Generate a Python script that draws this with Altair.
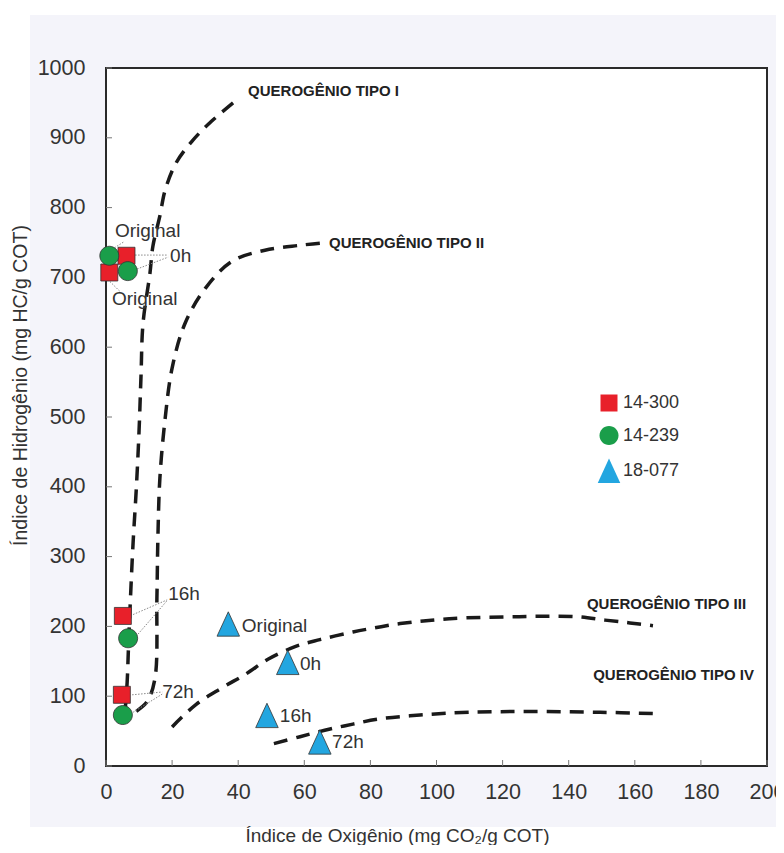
import altair as alt
import pandas as pd

FONT = "Liberation Sans"
W, H = 661, 698

# ---------------- data ----------------
samples = ["14-300", "14-239", "18-077"]
sample_colors = ["#e8202a", "#1a9e4a", "#23a6e0"]
stages = ["Original", "0h", "16h", "72h"]

oi_14300 = [1.0, 6.2, 5.1, 4.8]
hi_14300 = [707, 731, 215, 102]
oi_14239 = [1.0, 6.6, 6.7, 5.1]
hi_14239 = [731, 709, 183, 73]
oi_18077 = [37.0, 55.0, 48.7, 64.7]
hi_18077 = [203, 148, 72, 34]

curve_names = ["QUEROGÊNIO TIPO I", "QUEROGÊNIO TIPO II",
               "QUEROGÊNIO TIPO III", "QUEROGÊNIO TIPO IV"]
tipo1_oi = [5.8, 6.4, 6.8, 7.4, 8.2, 9.2, 10.0, 10.6, 11.2, 13.3, 14.2, 16.3, 17.9, 21.2, 26.0, 32.0, 40.5]
tipo1_hi = [80, 120, 170, 240, 320, 400, 480, 560, 634, 706, 745, 788, 825, 864, 895, 924, 958]
tipo2_oi = [64.7, 58.7, 48.1, 38.1, 30.0, 23.9, 20.0, 17.9, 16.3, 15.7, 15.4, 14.8, 12.4, 8.8, 5.0]
tipo2_hi = [749, 746, 739, 723, 684, 634, 570, 498, 412, 326, 240, 125, 92, 77, 65]
tipo3_oi = [20.0, 27.2, 35.1, 42.4, 49.0, 57.2, 64.7, 74.7, 81.4, 89.0, 104.0, 125.0, 142.0, 151.0, 158.5, 165.5]
tipo3_hi = [56, 88, 112, 132, 153, 171, 181, 192, 198, 204, 211, 214, 214, 209, 205, 201]
tipo4_oi = [50.8, 58.7, 67.8, 74.7, 82.0, 95.0, 110.0, 128.0, 149.5, 166.0]
tipo4_hi = [32, 42, 53, 60, 67, 73, 77, 78, 77, 75]

curve_label_oi = [43.0, 67.5, 145.5, 147.4]
curve_label_hi = [967, 749, 232, 131]

point_label_text = ["Original", "0h", "Original", "16h", "72h", "Original", "0h", "16h", "72h"]
point_label_oi = [2.7, 19.4, 1.8, 18.8, 17.0, 41.1, 58.7, 52.6, 68.4]
point_label_hi = [766, 730, 669, 247, 106, 201, 146, 72, 34]

leader_oi1 = [1.8, 8.8, 9.4, 1.2, 8.2, 9.7, 7.9, 8.2]
leader_hi1 = [740, 732, 712, 694, 217, 189, 102, 77]
leader_oi2 = [5.4, 18.8, 18.8, 4.2, 18.5, 18.5, 17.0, 17.0]
leader_hi2 = [751, 732, 729, 680, 238, 237, 106, 103]

x_ticks = list(range(0, 201, 20))
y_ticks = list(range(0, 1001, 100))

# ---------------- tables ----------------
pts = pd.DataFrame({
    "sample": [samples[0]] * 4 + [samples[1]] * 4 + [samples[2]] * 4,
    "stage": stages * 3,
    "oi": oi_14300 + oi_14239 + oi_18077,
    "hi": hi_14300 + hi_14239 + hi_18077,
})

curve_rows = []
for name, xs_, ys_ in zip(curve_names,
                          [tipo1_oi, tipo2_oi, tipo3_oi, tipo4_oi],
                          [tipo1_hi, tipo2_hi, tipo3_hi, tipo4_hi]):
    for i, (a, b) in enumerate(zip(xs_, ys_)):
        curve_rows.append({"curve": name, "ord": i, "oi": a, "hi": b})
curves_df = pd.DataFrame(curve_rows)

curve_labels_df = pd.DataFrame({"label": curve_names, "oi": curve_label_oi, "hi": curve_label_hi})
point_labels_df = pd.DataFrame({"label": point_label_text, "oi": point_label_oi, "hi": point_label_hi})
leaders_df = pd.DataFrame({"oi": leader_oi1, "hi": leader_hi1, "oi2": leader_oi2, "hi2": leader_hi2})
xt_df = pd.DataFrame({"oi": x_ticks})
yt_df = pd.DataFrame({"hi": y_ticks})
one = pd.DataFrame({"k": [0]})

# ---------------- scales / axes ----------------
xs = alt.Scale(domain=[0, 200], nice=False, zero=False)
ys = alt.Scale(domain=[0, 1000], nice=False, zero=False)

x_axis = alt.Axis(
    title="Índice de Oxigênio (mg CO₂/g COT)", values=x_ticks, format="d", ticks=False, domain=False,
    grid=False, labelFont=FONT, labelFontSize=21.5, labelColor="#333", labelPadding=15,
    labelFlush=False, labelOverlap=False, zindex=1,
    titleFont=FONT, titleFontSize=19, titleFontWeight="normal", titleColor="#333",
    titleX=291, titleY=75, titleAlign="center", titleBaseline="alphabetic",
)
y_axis = alt.Axis(
    title="Índice de Hidrogênio (mg HC/g COT)", values=y_ticks, format="d", ticks=False, domain=False,
    grid=False, labelFont=FONT, labelFontSize=21.5, labelColor="#333", labelPadding=21,
    labelFlush=False, labelOverlap=False, zindex=1,
    titleFont=FONT, titleFontSize=19.5, titleFontWeight="normal", titleColor="#333",
    titleX=-86, titleY=317, titleAngle=270, titleAlign="center", titleBaseline="middle",
)


def X(f):
    return alt.X(f + ":Q", scale=xs, axis=x_axis)


def Y(f):
    return alt.Y(f + ":Q", scale=ys, axis=y_axis)


# ---------------- layers ----------------
bg = alt.Chart(one).mark_rect(fill="#f4f4fa").encode(
    x=alt.value(-76), x2=alt.value(690), y=alt.value(-53), y2=alt.value(759)
)
frame = alt.Chart(one).mark_rect(fill="white", stroke="#2a2a2a", strokeWidth=2).encode(
    x=alt.value(0), x2=alt.value(W), y=alt.value(0), y2=alt.value(H)
)

curves = alt.Chart(curves_df).mark_line(
    color="#1a1a1a", strokeWidth=3.5, strokeDash=[14, 9], interpolate="catmull-rom"
).encode(x=X("oi"), y=Y("hi"), detail="curve:N", order="ord:Q")

xticks = alt.Chart(xt_df).mark_rule(color="#777", strokeWidth=1).encode(
    x=X("oi"), y=alt.value(H), y2=alt.value(H - 6)
)
yticks = alt.Chart(yt_df).mark_rule(color="#777", strokeWidth=1).encode(
    y=Y("hi"), x=alt.value(0), x2=alt.value(6)
)

leaders = alt.Chart(leaders_df).mark_rule(color="#888", strokeWidth=1, strokeDash=[1.5, 1.5]).encode(
    x=X("oi"), y=Y("hi"), x2="oi2:Q", y2="hi2:Q"
)

shape_paths = [
    "M-0.68,-0.68L0.68,-0.68L0.68,0.68L-0.68,0.68Z",
    "M0.76,0A0.76,0.76,0,1,1,-0.76,0A0.76,0.76,0,1,1,0.76,0Z",
    "M0,-1L0.9,0.95L-0.9,0.95Z",
]
leg = alt.Legend(
    orient="none", legendX=490, legendY=322, title=None, symbolSize=625,
    labelFont=FONT, labelFontSize=18, labelColor="#333", rowPadding=8.5, padding=0,
    labelOffset=1, symbolStrokeColor="#333", symbolStrokeWidth=0.8, symbolOpacity=1,
)
points = alt.Chart(pts).mark_point(
    filled=True, size=625, opacity=1, stroke="#333", strokeWidth=0.8
).encode(
    x=X("oi"), y=Y("hi"),
    color=alt.Color("sample:N", scale=alt.Scale(domain=samples, range=sample_colors), legend=leg),
    shape=alt.Shape("sample:N", scale=alt.Scale(domain=samples, range=shape_paths), legend=leg),
)

point_labels = alt.Chart(point_labels_df).mark_text(
    align="left", baseline="middle", font=FONT, fontSize=19, color="#333"
).encode(x=X("oi"), y=Y("hi"), text="label:N")

curve_labels = alt.Chart(curve_labels_df).mark_text(
    align="left", baseline="middle", font=FONT, fontSize=15, fontWeight="bold", color="#222"
).encode(x=X("oi"), y=Y("hi"), text="label:N")

chart = alt.layer(
    bg, frame, curves, xticks, yticks, leaders, points, point_labels, curve_labels
).properties(
    width=W, height=H,
    padding={"left": 98, "top": 60, "right": 9, "bottom": 79},
    autosize=alt.AutoSizeParams(type="none"),
    background="#ffffff",
).configure_view(stroke=None)

chart.save("out.html", embed_options={"renderer": "svg", "actions": False})
